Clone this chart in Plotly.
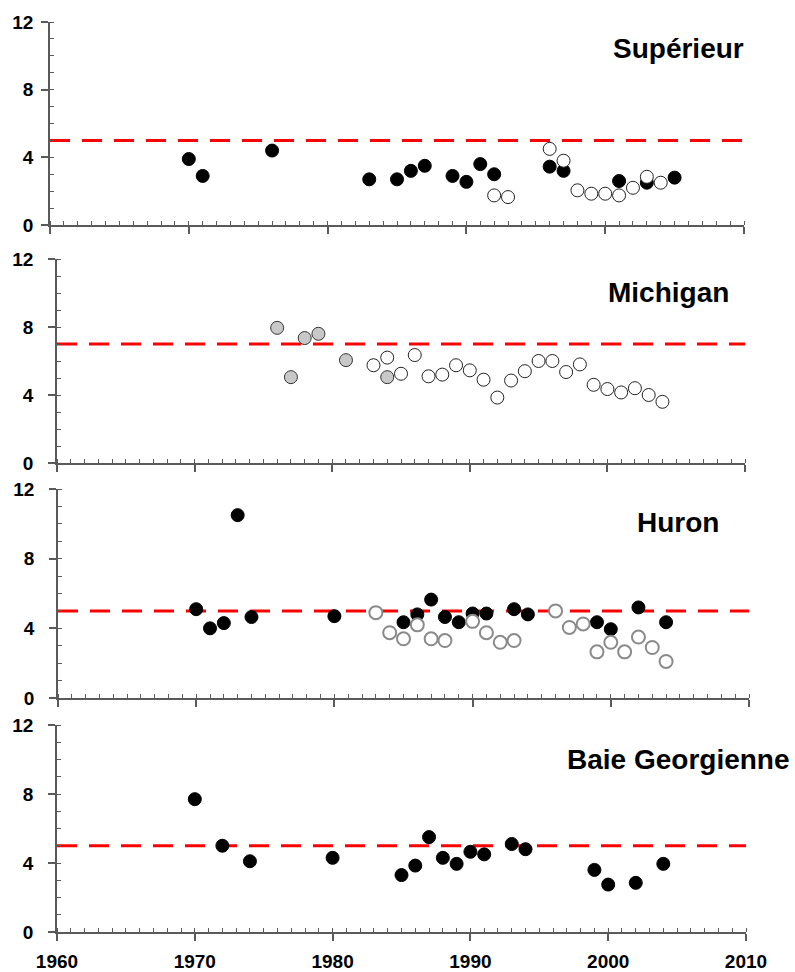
import plotly.graph_objects as go

# ---------------- data ----------------
# Supérieur
sup_filled_years = [1970, 1971, 1976, 1983, 1985, 1986, 1987, 1989, 1990, 1991, 1992, 1996, 1997, 2001, 2003, 2005]
sup_filled_vals = [3.9, 2.9, 4.4, 2.7, 2.7, 3.2, 3.5, 2.9, 2.55, 3.6, 3.0, 3.45, 3.2, 2.6, 2.5, 2.8]
sup_open_years = [1992, 1993, 1996, 1997, 1998, 1999, 2000, 2001, 2002, 2003, 2004]
sup_open_vals = [1.75, 1.65, 4.5, 3.8, 2.05, 1.85, 1.85, 1.75, 2.2, 2.85, 2.5]
sup_threshold = 5

# Michigan
mich_grey_years = [1976, 1977, 1978, 1979, 1981, 1984]
mich_grey_vals = [7.95, 5.05, 7.35, 7.6, 6.05, 5.05]
mich_open_years = [1983, 1984, 1985, 1986, 1987, 1988, 1989, 1990, 1991, 1992, 1993, 1994, 1995,
                   1996, 1997, 1998, 1999, 2000, 2001, 2002, 2003, 2004]
mich_open_vals = [5.75, 6.2, 5.25, 6.35, 5.1, 5.2, 5.75, 5.45, 4.9, 3.85, 4.85, 5.4, 6.0,
                  6.0, 5.35, 5.8, 4.6, 4.35, 4.15, 4.4, 4.0, 3.6]
mich_threshold = 7

# Huron
hur_filled_years = [1970, 1971, 1972, 1973, 1974, 1980, 1985, 1986, 1987, 1988, 1989, 1990, 1991,
                    1993, 1994, 1999, 2000, 2002, 2004]
hur_filled_vals = [5.1, 4.0, 4.3, 10.5, 4.65, 4.7, 4.35, 4.8, 5.65, 4.65, 4.35, 4.85, 4.85,
                   5.1, 4.8, 4.35, 3.95, 5.2, 4.35]
hur_open_years = [1983, 1984, 1985, 1986, 1987, 1988, 1990, 1991, 1992, 1993, 1996, 1997, 1998,
                  1999, 2000, 2001, 2002, 2003, 2004]
hur_open_vals = [4.9, 3.75, 3.4, 4.2, 3.4, 3.3, 4.4, 3.75, 3.2, 3.3, 5.0, 4.05, 4.25,
                 2.65, 3.2, 2.65, 3.5, 2.9, 2.1]
hur_threshold = 5

# Baie Georgienne
bg_years = [1970, 1972, 1974, 1980, 1985, 1986, 1987, 1988, 1989, 1990, 1991, 1993, 1994,
            1999, 2000, 2002, 2004]
bg_vals = [7.7, 5.0, 4.1, 4.3, 3.3, 3.85, 5.5, 4.3, 3.95, 4.65, 4.5, 5.1, 4.8,
           3.6, 2.75, 2.85, 3.95]
bg_threshold = 5

panel_titles = ["Supérieur", "Michigan", "Huron", "Baie Georgienne"]
x_ticks = [1960, 1970, 1980, 1990, 2000, 2010]
y_ticks = [0, 4, 8, 12]

# ---------------- layout geometry (pixels) ----------------
W, H = 795, 972
# (left, right, top, bottom) in pixels for each plot area
boxes = [
    (50, 744, 22, 225),
    (57, 745, 259, 463),
    (58, 749, 489, 698),
    (57, 746, 725, 932),
]
title_pos = [(678, 49), (668, 293), (678, 522), (678, 759)]

FONT = "Liberation Sans, Arial, Helvetica, sans-serif"

fig = go.Figure()

def add_threshold(i, thr):
    fig.add_trace(go.Scatter(
        x=[x_ticks[0], x_ticks[-1]], y=[thr, thr], mode="lines",
        line=dict(color="#ff0000", width=3, dash="20px,12px"),
        xaxis=f"x{i+1 if i else ''}", yaxis=f"y{i+1 if i else ''}",
        showlegend=False, hoverinfo="skip"))

def add_pts(i, xs, ys, fill, edge, ew):
    fig.add_trace(go.Scatter(
        x=xs, y=ys, mode="markers",
        marker=dict(size=13, color=fill, line=dict(color=edge, width=ew)),
        xaxis=f"x{i+1 if i else ''}", yaxis=f"y{i+1 if i else ''}",
        showlegend=False, cliponaxis=False))

# Supérieur
add_threshold(0, sup_threshold)
add_pts(0, sup_filled_years, sup_filled_vals, "#000000", "#000000", 1)
add_pts(0, sup_open_years, sup_open_vals, "#ffffff", "#222222", 1)
# Michigan
add_threshold(1, mich_threshold)
add_pts(1, mich_grey_years, mich_grey_vals, "#c8c8c8", "#333333", 1)
add_pts(1, mich_open_years, mich_open_vals, "#ffffff", "#222222", 1)
# Huron
add_threshold(2, hur_threshold)
add_pts(2, hur_filled_years, hur_filled_vals, "#000000", "#000000", 1)
add_pts(2, hur_open_years, hur_open_vals, "#ffffff", "#8a8a8a", 2)
# Baie Georgienne
add_threshold(3, bg_threshold)
add_pts(3, bg_years, bg_vals, "#000000", "#000000", 1)

axis_color = "#5a5a5a"
layout = dict(
    width=W, height=H, margin=dict(l=0, r=0, t=0, b=0, autoexpand=False),
    paper_bgcolor="white", plot_bgcolor="white", showlegend=False,
    annotations=[],
)
for i, (l, r, t, b) in enumerate(boxes):
    sfx = str(i + 1) if i else ""
    last = (i == 3)
    layout[f"xaxis{sfx}"] = dict(
        domain=[l / W, r / W], range=[1960, 2010], anchor=f"y{sfx}", automargin=False,
        tickvals=x_ticks, ticktext=[str(v) for v in x_ticks],
        showticklabels=last, ticks="outside", ticklen=7, tickwidth=1.5, tickcolor=axis_color,
        minor=dict(dtick=1, ticks="inside", ticklen=4, tickwidth=1, tickcolor=axis_color, showgrid=False),
        showline=True, linecolor=axis_color, linewidth=1.5, showgrid=False, zeroline=False,
        tickfont=dict(family=FONT, size=19, color="black", weight="bold"),
        ticklabelstandoff=4,
    )
    layout[f"yaxis{sfx}"] = dict(
        domain=[1 - b / H, 1 - t / H], range=[0, 12], anchor=f"x{sfx}", automargin=False,
        tickvals=y_ticks, ticks="outside", ticklen=7, tickwidth=1.5, tickcolor=axis_color,
        minor=dict(dtick=1, ticks="inside", ticklen=4, tickwidth=1, tickcolor=axis_color, showgrid=False),
        showline=True, linecolor=axis_color, linewidth=1.5, showgrid=False, zeroline=False,
        tickfont=dict(family=FONT, size=19, color="black", weight="bold"),
        ticklabelstandoff=(4 if i == 0 else 11),
    )
    tx, ty = title_pos[i]
    layout["annotations"].append(dict(
        text=panel_titles[i], x=tx / W, y=1 - ty / H, xref="paper", yref="paper",
        xanchor="center", yanchor="middle", showarrow=False,
        font=dict(family=FONT, size=28, color="black", weight="bold")))

fig.update_layout(**layout)
fig.write_html("out.html")
